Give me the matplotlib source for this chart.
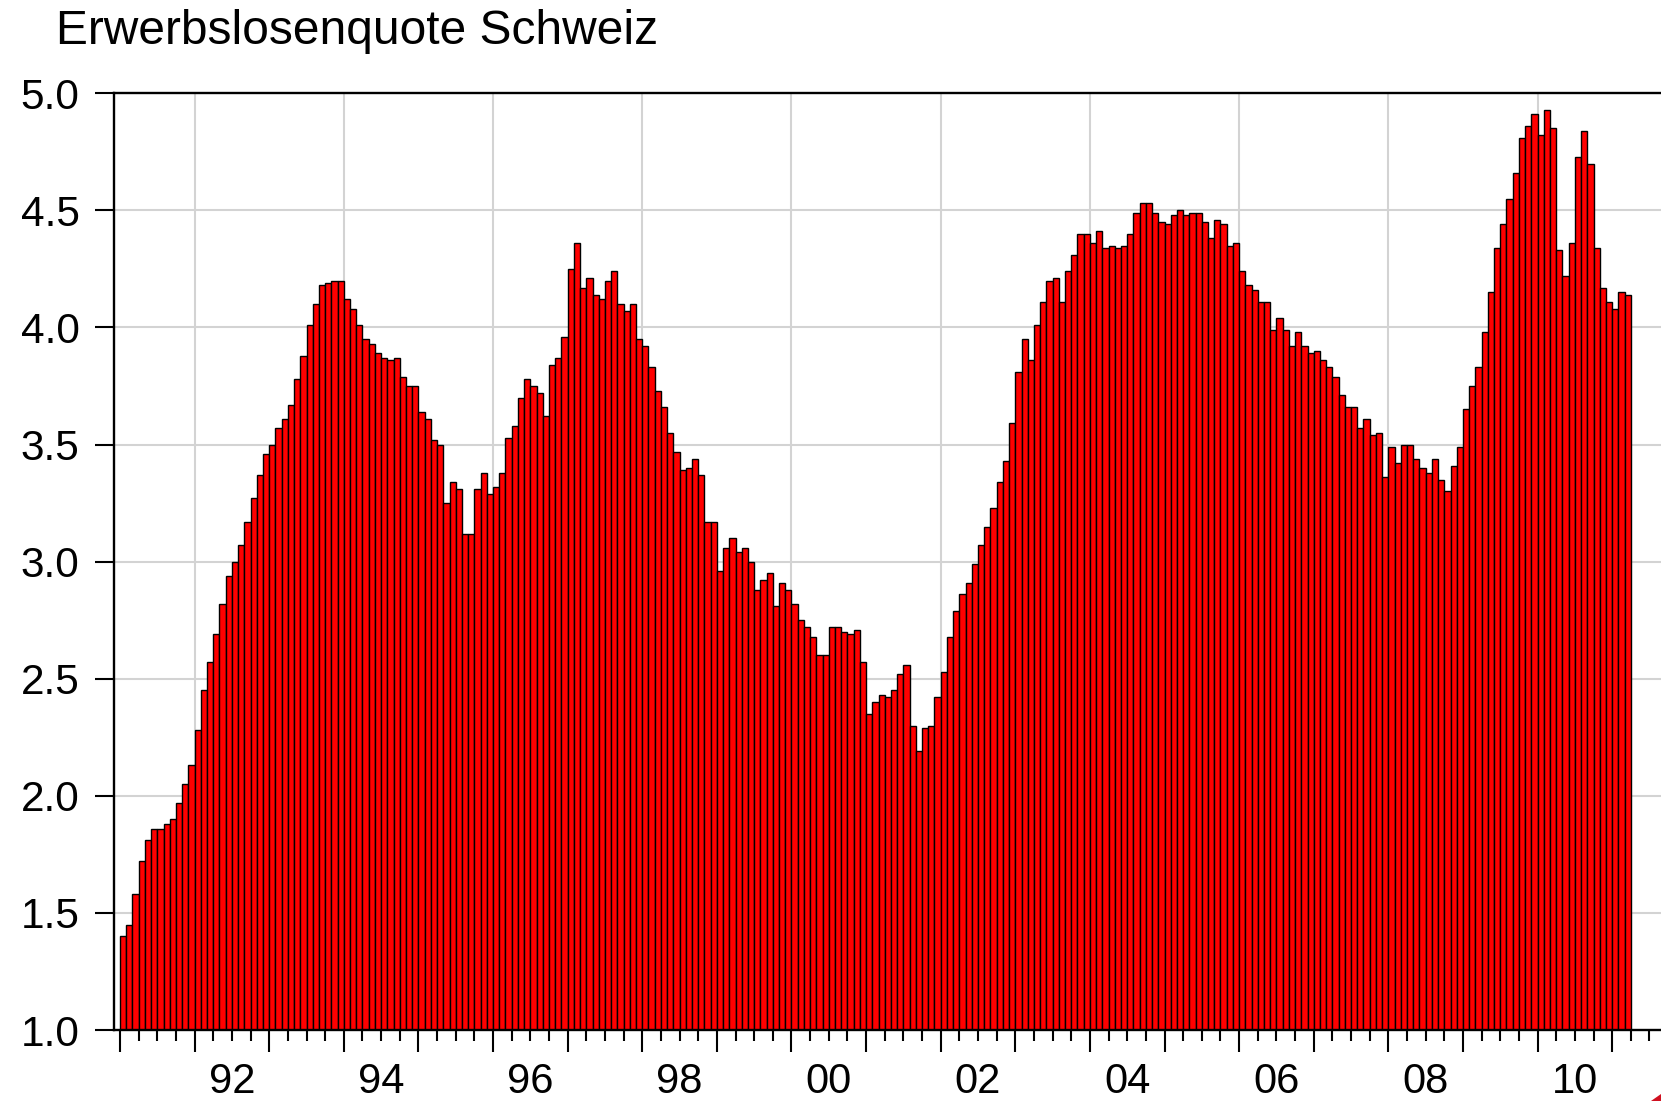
import numpy as np
import matplotlib
matplotlib.use("Agg")
import matplotlib.pyplot as plt
from matplotlib.ticker import FixedLocator, MultipleLocator, NullLocator, FormatStrFormatter
from matplotlib.patches import Polygon

plt.rcParams['font.family'] = ['Liberation Sans', 'DejaVu Sans']

# ---------------- data ----------------
title = "Erwerbslosenquote Schweiz"
start_year = 1991  # monthly data, first observation 1991M01

rate_1991_1995 = [1.40, 1.45, 1.58, 1.72, 1.81, 1.86, 1.86, 1.88, 1.90, 1.97, 2.05, 2.13,
                  2.28, 2.45, 2.57, 2.69, 2.82, 2.94, 3.00, 3.07, 3.17, 3.27, 3.37, 3.46,
                  3.50, 3.57, 3.61, 3.67, 3.78, 3.88, 4.01, 4.10, 4.18, 4.19, 4.20, 4.20,
                  4.12, 4.08, 4.01, 3.95, 3.93, 3.89, 3.87, 3.86, 3.87, 3.79, 3.75, 3.75,
                  3.64, 3.61, 3.52, 3.50, 3.25, 3.34, 3.31, 3.12, 3.12, 3.31, 3.38, 3.29]
rate_1996_2000 = [3.32, 3.38, 3.53, 3.58, 3.70, 3.78, 3.75, 3.72, 3.62, 3.84, 3.87, 3.96,
                  4.25, 4.36, 4.17, 4.21, 4.14, 4.12, 4.20, 4.24, 4.10, 4.07, 4.10, 3.95,
                  3.92, 3.83, 3.73, 3.66, 3.55, 3.47, 3.39, 3.40, 3.44, 3.37, 3.17, 3.17,
                  2.96, 3.06, 3.10, 3.04, 3.06, 3.00, 2.88, 2.92, 2.95, 2.81, 2.91, 2.88,
                  2.82, 2.75, 2.72, 2.68, 2.60, 2.60, 2.72, 2.72, 2.70, 2.69, 2.71, 2.57]
rate_2001_2005 = [2.35, 2.40, 2.43, 2.42, 2.45, 2.52, 2.56, 2.30, 2.19, 2.29, 2.30, 2.42,
                  2.53, 2.68, 2.79, 2.86, 2.91, 2.99, 3.07, 3.15, 3.23, 3.34, 3.43, 3.59,
                  3.81, 3.95, 3.86, 4.01, 4.11, 4.20, 4.21, 4.11, 4.24, 4.31, 4.40, 4.40,
                  4.36, 4.41, 4.34, 4.35, 4.34, 4.35, 4.40, 4.49, 4.53, 4.53, 4.49, 4.45,
                  4.44, 4.48, 4.50, 4.48, 4.49, 4.49, 4.45, 4.38, 4.46, 4.44, 4.35, 4.36]
rate_2006_2011 = [4.24, 4.18, 4.16, 4.11, 4.11, 3.99, 4.04, 3.99, 3.92, 3.98, 3.92, 3.89,
                  3.90, 3.86, 3.83, 3.79, 3.71, 3.66, 3.66, 3.57, 3.61, 3.54, 3.55, 3.36,
                  3.49, 3.42, 3.50, 3.50, 3.44, 3.40, 3.38, 3.44, 3.35, 3.30, 3.41, 3.49,
                  3.65, 3.75, 3.83, 3.98, 4.15, 4.34, 4.44, 4.55, 4.66, 4.81, 4.86, 4.91,
                  4.82, 4.93, 4.85, 4.33, 4.22, 4.36, 4.73, 4.84, 4.70, 4.34, 4.17, 4.11,
                  4.08, 4.15, 4.14]

label_years = [1992, 1994, 1996, 1998, 2000, 2002, 2004, 2006, 2008, 2010]
x_labels = ['92', '94', '96', '98', '00', '02', '04', '06', '08', '10']
y_ticks = [1.0, 1.5, 2.0, 2.5, 3.0, 3.5, 4.0, 4.5, 5.0]

values = np.array(rate_1991_1995 + rate_1996_2000 + rate_2001_2005 + rate_2006_2011)

# ---------------- figure ----------------
W, H = 1661, 1101
fig = plt.figure(figsize=(W / 100, H / 100), dpi=100)
left_px, right_px, top_px, bottom_px = 114.3, 1693.0, 93.3, 1030.0
ax = fig.add_axes([left_px / W, 1 - bottom_px / H,
                   (right_px - left_px) / W, (bottom_px - top_px) / H])

x = np.arange(len(values))
ax.bar(x, values, width=1.0, align='edge', color='#ff0000',
       edgecolor='black', linewidth=1.0, zorder=2)

ax.set_xlim(-0.92, 253.0)
ax.set_ylim(1.0, 5.0)

# grid
ax.set_axisbelow(True)
ax.yaxis.set_major_locator(FixedLocator(y_ticks))
ax.yaxis.set_major_formatter(FormatStrFormatter('%.1f'))
ax.yaxis.grid(True, color='#d3d3d3', linewidth=1.5, zorder=0)
for yr in label_years + [2012]:
    ax.axvline(12 * (yr - start_year), color='#d3d3d3', linewidth=1.5, zorder=0)

# spines
for s in ['top', 'left', 'bottom']:
    ax.spines[s].set_linewidth(1.7)
    ax.spines[s].set_color('black')

# x ticks: long at each year, short at each quarter
ax.xaxis.set_major_locator(MultipleLocator(12))
ax.xaxis.set_minor_locator(MultipleLocator(3))
ax.tick_params(axis='x', which='major', direction='out', length=15.5, width=1.5,
               labelbottom=False)
ax.tick_params(axis='x', which='minor', direction='out', length=8, width=1.5)
ax.tick_params(axis='y', which='major', direction='out', length=14, width=1.5,
               pad=11, labelsize=30.5)

# year labels centred in the middle of each labelled year
sec = ax.secondary_xaxis('bottom')
sec.set_xticks([12 * (yr - start_year) + 6 for yr in label_years], x_labels)
sec.xaxis.set_minor_locator(NullLocator())
sec.tick_params(axis='x', length=0, pad=23, labelsize=30)
sec.spines['bottom'].set_visible(False)

fig.text(56 / W, 1 - 44.5 / H, title, fontsize=34.5, ha='left', va='baseline')

# small red fragment in the bottom-right corner
fig.patches.append(Polygon([[1651 / W, 0.0], [1.0, 0.0], [1.0, 7 / H]],
                           closed=True, transform=fig.transFigure,
                           facecolor='#d01020', edgecolor='none'))

fig.savefig('out.png', dpi=100)
